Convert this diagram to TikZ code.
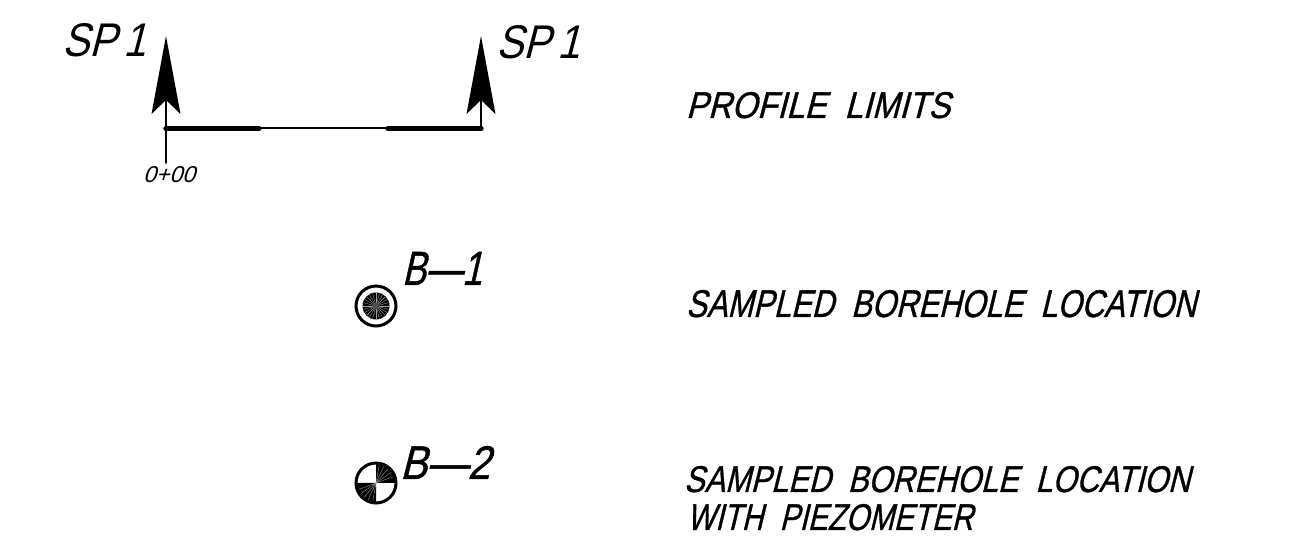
\documentclass[tikz,border=0pt]{standalone}
\usepackage{fontspec}
\usepackage{graphicx}
\setmainfont{Liberation Sans}
\newfontfamily\cadfont[FakeSlant=0.3,FakeBold=1.0]{Liberation Sans}
\newfontfamily\cadthin[FakeSlant=0.3]{Liberation Sans}
\newcommand{\fittext}[3]{\resizebox{\dimexpr #1pt/2\relax}{\dimexpr #2pt/2\relax}{\cadfont #3}}
\newcommand{\fitthin}[3]{\resizebox{\dimexpr #1pt/2\relax}{\dimexpr #2pt/2\relax}{\cadthin #3}}
\tikzset{
  lbl/.style={anchor=base west,inner sep=0pt,outer sep=0pt,text=black},
  thinline/.style={draw=black,line width=1pt,line cap=round},
  thickline/.style={draw=black,line width=2.7pt,line cap=round},
  arrowhead/.style={fill=black,draw=none},
  ring/.style={draw=black,line width=1.5pt,fill=none},
  spoke/.style={draw=white!62!black,line width=0.18pt}
}
\begin{document}
\begin{tikzpicture}[x=0.5pt,y=-0.5pt]
\useasboundingbox (0,0) rectangle (1316,549);
\fill[white] (0,0) rectangle (1316,549);
% section line
\coordinate (la) at (166,128.5);
\coordinate (lb) at (259,128.5);
\coordinate (rb) at (388,128.5);
\coordinate (ra) at (481,128.5);
\coordinate (ltip) at (166,36);
\coordinate (rtip) at (481,36);
\coordinate (lnotch) at (166,100);
\coordinate (rnotch) at (481,100);
\coordinate (lend) at (166,163);
\draw[thinline] (lb) -- (rb);
\draw[thickline] (la) -- (lb);
\draw[thickline] (rb) -- (ra);
\draw[thinline] (lnotch) -- (lend);
\draw[thinline] (rnotch) -- (ra);
\fill[arrowhead] (ltip) -- (180.5,114) -- (lnotch) -- (151.5,114) -- cycle;
\fill[arrowhead] (rtip) -- (495.5,114) -- (rnotch) -- (466.5,114) -- cycle;
% labels
\node[lbl] (spl) at (62,57) {\fitthin{84}{33}{SP\,1}};
\node[lbl] (spr) at (496,59) {\fitthin{84}{33}{SP\,1}};
\node[lbl] (sta) at (143,183) {\fitthin{52}{16}{0+00}};
\node[lbl] (b1) at (402,285) {\fittext{80}{33}{B—1}};
\node[lbl] (b2) at (400,479) {\fittext{90}{33}{B—2}};
\node[lbl] (t1) at (686,118) {\fittext{264}{26}{PROFILE\ \ LIMITS}};
\node[lbl] (t2) at (686,317) {\fittext{510}{27}{SAMPLED\ \ BOREHOLE\ \ LOCATION}};
\node[lbl] (t3) at (684,492) {\fittext{506}{26}{SAMPLED\ \ BOREHOLE\ \ LOCATION}};
\node[lbl] (t4) at (687,530) {\fittext{286}{26}{WITH\ \ PIEZOMETER}};
% B-1 symbol
\coordinate (c1) at (376,306);
\draw[ring] (c1) circle (20);
\fill[black] (c1) circle (13.5);
\foreach \a in {0,15,...,345}{\draw[spoke] (c1) -- ++(\a:13);}
\fill[white!30!black] (c1) circle (3.5);
% B-2 symbol
\coordinate (c2) at (376,483);
\fill[black] (c2) -- ++(0:20) arc (0:-90:20) -- cycle;
\fill[black] (c2) -- ++(180:20) arc (180:90:20) -- cycle;
\foreach \a in {-80,-65,...,-10}{\draw[spoke] (c2) -- ++(\a:19);}
\foreach \a in {100,115,...,170}{\draw[spoke] (c2) -- ++(\a:19);}
\draw[ring] (c2) circle (20);
\end{tikzpicture}
\end{document}
